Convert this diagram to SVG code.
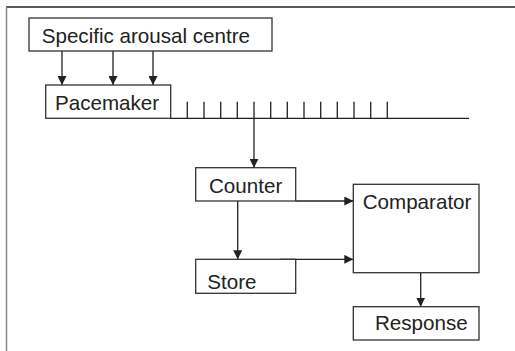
<svg xmlns="http://www.w3.org/2000/svg" width="515" height="351" viewBox="0 0 515 351">
<style>
.box{fill:#fff;stroke:#333;stroke-width:1.3}
.t{font-family:"Liberation Sans",Arial,sans-serif;font-size:20.6px;fill:#222}
.ln{stroke:#222;stroke-width:1.3;fill:none}
.ar{stroke:#222;stroke-width:1.3;fill:none;marker-end:url(#ah)}
</style>
<defs>
<marker id="ah" viewBox="0 0 10 10" refX="10" refY="5" markerWidth="9" markerHeight="9" markerUnits="userSpaceOnUse" orient="auto">
<path d="M0,0 L10,5 L0,10 z" fill="#222"/>
</marker>
</defs>
<rect width="515" height="351" fill="#fff"/>
<g id="frame">
<line x1="6" y1="7" x2="515" y2="7" stroke="#222" stroke-width="1.3"/>
<line x1="6.5" y1="7" x2="6.5" y2="351" stroke="#888" stroke-width="1.5"/>
</g>
<g id="connectors">
<line class="ar" x1="62" y1="51" x2="62" y2="85"/>
<line class="ar" x1="113" y1="51" x2="113" y2="85"/>
<line class="ar" x1="153" y1="51" x2="153" y2="85"/>
<line class="ln" x1="170.7" y1="118.3" x2="469" y2="118.3"/>
<path class="ln" d="M187.3,101.7V118.3M204,101.7V118.3M220.7,101.7V118.3M237.3,101.7V118.3M254,101.7V118.3M270.7,101.7V118.3M287.3,101.7V118.3M304,101.7V118.3M320.7,101.7V118.3M337.3,101.7V118.3M354,101.7V118.3M370.7,101.7V118.3M387.3,101.7V118.3"/>
<line class="ar" x1="254" y1="118.3" x2="254" y2="167.7"/>
<line class="ar" x1="295.7" y1="201" x2="353.3" y2="201"/>
<line class="ar" x1="237.7" y1="201" x2="237.7" y2="259.3"/>
<line class="ar" x1="280" y1="259.3" x2="353.3" y2="259.3"/>
<line class="ar" x1="420.7" y1="272.7" x2="420.7" y2="306.7"/>
</g>
<g id="arousal">
<rect class="box" x="29" y="18" width="243" height="33"/>
<text class="t" x="41.7" y="42.7">Specific arousal centre</text>
</g>
<g id="pacemaker">
<rect class="box" x="45.7" y="85" width="125" height="33.3"/>
<text class="t" x="55" y="110">Pacemaker</text>
</g>
<g id="counter">
<rect class="box" x="195.7" y="167.7" width="100" height="33.3"/>
<text class="t" x="209" y="192.7">Counter</text>
</g>
<g id="comparator">
<rect class="box" x="353.3" y="184.3" width="125.7" height="88.4"/>
<text class="t" x="362.7" y="209.3">Comparator</text>
</g>
<g id="store">
<rect class="box" x="195.7" y="259.3" width="100" height="34"/>
<text class="t" x="207.3" y="289.3">Store</text>
</g>
<g id="response">
<rect class="box" x="353.3" y="306.7" width="125.7" height="33.3"/>
<text class="t" x="375" y="330">Response</text>
</g>
</svg>
